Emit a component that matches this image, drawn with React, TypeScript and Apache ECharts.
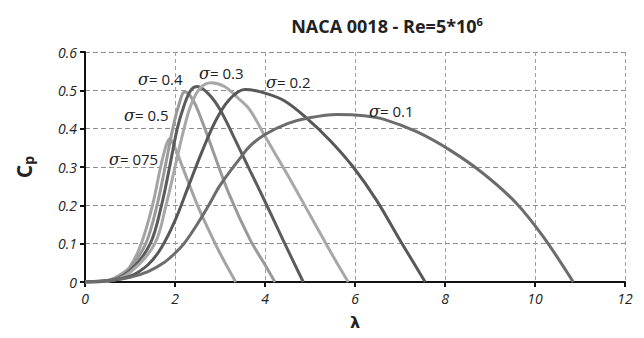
import React, { useEffect, useRef } from "react";
import * as echarts from "echarts";

// [lambda, Cp] pairs
const sigma075: number[][] = [
  [0, 0], [0.5, 0.004], [0.8, 0.02], [1.0, 0.04], [1.25, 0.1], [1.5, 0.2], [1.68, 0.3],
  [1.8, 0.355], [1.88, 0.374], [2.0, 0.35], [2.2, 0.29], [2.5, 0.2], [2.7, 0.148],
  [3.0, 0.075], [3.35, 0],
];
const sigma05: number[][] = [
  [0, 0], [0.5, 0.003], [0.8, 0.015], [1.0, 0.035], [1.35, 0.1], [1.6, 0.2], [1.78, 0.3],
  [1.95, 0.4], [2.08, 0.46], [2.22, 0.496], [2.4, 0.475], [2.6, 0.42], [2.85, 0.34],
  [3.2, 0.23], [3.67, 0.11], [4.0, 0.045], [4.22, 0],
];
const sigma04: number[][] = [
  [0, 0], [0.5, 0.002], [1.0, 0.03], [1.45, 0.1], [1.7, 0.2], [1.88, 0.3], [2.05, 0.4],
  [2.2, 0.46], [2.35, 0.5], [2.5, 0.51], [2.75, 0.49], [3.0, 0.45], [3.3, 0.38],
  [3.67, 0.29], [4.0, 0.21], [4.4, 0.11], [4.85, 0],
];
const sigma03: number[][] = [
  [0, 0], [0.5, 0.002], [1.0, 0.025], [1.55, 0.1], [1.8, 0.2], [2.0, 0.3], [2.2, 0.4],
  [2.35, 0.46], [2.55, 0.505], [2.8, 0.52], [3.1, 0.51], [3.4, 0.48], [3.67, 0.448],
  [4.0, 0.38], [4.5, 0.28], [5.0, 0.175], [5.5, 0.07], [5.85, 0],
];
const sigma02: number[][] = [
  [0, 0], [0.5, 0.003], [1.0, 0.015], [1.4, 0.045], [1.7, 0.09], [2.0, 0.16], [2.3, 0.25],
  [2.6, 0.34], [2.9, 0.42], [3.2, 0.475], [3.55, 0.502], [3.9, 0.496], [4.41, 0.474],
  [4.93, 0.427], [5.44, 0.37], [5.96, 0.3], [6.48, 0.213], [7.0, 0.109], [7.56, 0],
];
const sigma01: number[][] = [
  [0, 0], [0.6, 0.005], [1.0, 0.012], [1.4, 0.027], [1.75, 0.05], [2.0, 0.075], [2.2, 0.1],
  [2.48, 0.148], [2.75, 0.2], [3.0, 0.252], [3.44, 0.322], [3.67, 0.355], [4.0, 0.385],
  [4.5, 0.413], [4.93, 0.427], [5.6, 0.437], [6.2, 0.434], [6.63, 0.425], [7.37, 0.392],
  [8.11, 0.344], [8.85, 0.283], [9.59, 0.205], [10.19, 0.117], [10.85, 0],
];

const seriesNames = ["σ=0.075", "σ=0.5", "σ=0.4", "σ=0.3", "σ=0.2", "σ=0.1"];
const seriesData = [sigma075, sigma05, sigma04, sigma03, sigma02, sigma01];
const seriesColors = ["#a4a4a4", "#9a9a9a", "#5c5c5c", "#a8a8a8", "#585858", "#6c6c6c"];

const labelTexts = ["075", "0.5", "0.4", "0.3", "0.2", "0.1"];
const labelPos = [
  [109, 151], [124, 107], [138, 71], [199, 65], [266, 74], [369, 103],
];

export default function App() {
  const ref = useRef<HTMLDivElement>(null);
  useEffect(() => {
    if (!ref.current) return;
    const chart = echarts.init(ref.current, null, { renderer: "svg" });
    const labelFont = "Open Sans";
    chart.setOption({
      animation: false,
      backgroundColor: "#ffffff",
      title: {
        text: "{a|NACA 0018 - Re=5*10}{b|6}",
        left: 382,
        textAlign: "center",
        top: 9,
        textStyle: {
          rich: {
            a: { fontFamily: labelFont, fontWeight: "bold", fontSize: 18, color: "#222", lineHeight: 24 },
            b: { fontFamily: labelFont, fontWeight: "bold", fontSize: 11, color: "#222", lineHeight: 24, padding: [0, 0, 10, 0] },
          },
        },
      },
      grid: { left: 85, right: 19, top: 52, bottom: 56 },
      xAxis: {
        type: "value",
        min: 0,
        max: 12,
        interval: 2,
        name: "λ",
        nameLocation: "middle",
        nameGap: 32,
        nameTextStyle: { fontFamily: "DejaVu Sans", fontWeight: "bold", fontSize: 16, color: "#222" },
        axisLine: { show: true, onZero: false, lineStyle: { color: "#111", width: 2 } },
        axisTick: { show: true, length: 5, lineStyle: { color: "#111", width: 2 } },
        axisLabel: { fontFamily: labelFont, fontStyle: "italic", fontSize: 14, color: "#222", margin: 9 },
        splitLine: { show: true, lineStyle: { color: "#a0a0a0", type: [4, 3], width: 1 } },
      },
      yAxis: {
        type: "value",
        min: 0,
        max: 0.6,
        interval: 0.1,
        name: "{c|C}{p|p}",
        nameLocation: "middle",
        nameRotate: 90,
        nameGap: 50,
        nameTextStyle: {
          rich: {
            c: { fontFamily: labelFont, fontWeight: "bold", fontSize: 21, color: "#222" },
            p: { fontFamily: labelFont, fontWeight: "bold", fontSize: 14, color: "#222", padding: [8, 0, 0, 0] },
          },
        },
        axisLine: { show: true, lineStyle: { color: "#111", width: 2 } },
        axisTick: { show: true, length: 5, lineStyle: { color: "#111", width: 2 } },
        axisLabel: {
          fontFamily: labelFont,
          fontStyle: "italic",
          fontSize: 14,
          color: "#222",
          margin: 8,
          formatter: (v: number) => (v === 0 ? "0" : v.toFixed(1)),
        },
        splitLine: { show: true, lineStyle: { color: "#909090", type: [5, 3], width: 1.2 } },
      },
      series: seriesData.map((d, i) => ({
        type: "line",
        name: seriesNames[i],
        data: d,
        smooth: 0.35,
        showSymbol: false,
        lineStyle: { color: seriesColors[i], width: 3 },
        z: 3,
      })),
      graphic: labelTexts.map((t, i) => ({
        type: "text",
        x: labelPos[i][0],
        y: labelPos[i][1],
        z: 10,
        style: {
          text: "{s|σ}{n|= " + t + "}",
          rich: {
            s: { fontFamily: "DejaVu Serif", fontStyle: "italic", fontSize: 16, fill: "#222" },
            n: { fontFamily: labelFont, fontSize: 15, fill: "#222" },
          },
        },
      })),
    });
    return () => chart.dispose();
  }, []);
  return <div ref={ref} style={{ position: "fixed", left: 0, top: 0, width: 644, height: 338 }} />;
}
